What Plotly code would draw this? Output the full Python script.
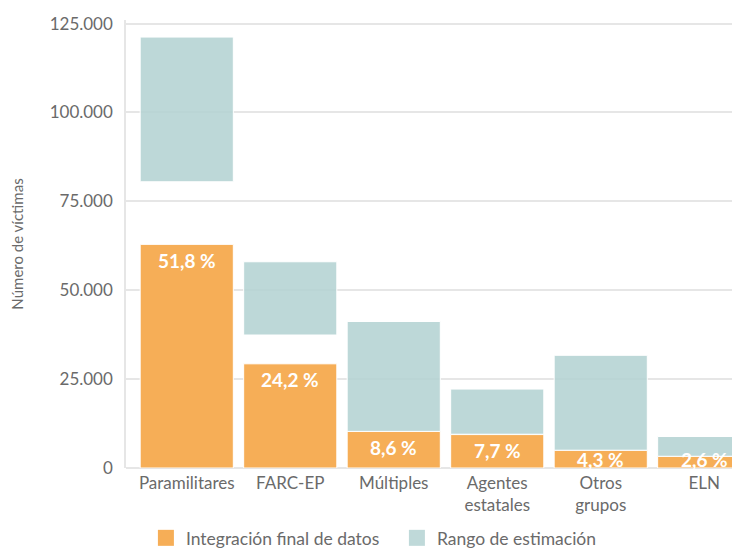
import plotly.graph_objects as go

categorias = ["Paramilitares", "FARC-EP", "Múltiples", "Agentes<br>estatales", "Otros<br>grupos", "ELN"]
integracion = [62900, 29300, 10300, 9400, 5000, 3300]
rango_min = [80500, 37400, 10300, 9500, 5000, 3300]
rango_max = [121200, 58000, 41200, 22200, 31700, 8850]
porcentajes = ["51,8 %", "24,2 %", "8,6 %", "7,7 %", "4,3 %", "2,6 %"]

naranja = "#f6ae57"
verde = "rgba(178,209,209,0.85)"
gris = "#6a6a6a"
fuente = "Lato"

fig = go.Figure()

fig.add_trace(go.Bar(
    x=categorias, y=integracion,
    marker=dict(color=naranja, line=dict(color="white", width=1)),
    showlegend=False, hoverinfo="skip",
))
fig.add_trace(go.Bar(
    x=categorias, y=[hi - lo for lo, hi in zip(rango_min, rango_max)], base=rango_min,
    marker=dict(color=verde, line=dict(color="white", width=1)),
    showlegend=False, hoverinfo="skip",
))

# legend only
fig.add_trace(go.Scatter(x=[None], y=[None], mode="markers", name="Integración final de datos",
                         marker=dict(symbol="square", size=16, color=naranja)))
fig.add_trace(go.Scatter(x=[None], y=[None], mode="markers", name="Rango de estimación",
                         marker=dict(symbol="square", size=16, color="#bfd9d9")))

for cat, v, txt in zip(categorias, integracion, porcentajes):
    fig.add_annotation(x=cat, y=max(v - 4500, 2400), text="<b>" + txt + "</b>", showarrow=False,
                       font=dict(family=fuente, size=19, color="white"), yanchor="middle")

# the page adds an 8px body margin, so the figure is laid out 8px up/left
fig.update_layout(
    width=740, height=548,
    margin=dict(l=118, r=0, t=12, b=88, autoexpand=False),
    plot_bgcolor="white", paper_bgcolor="white",
    barmode="overlay", bargap=0.1,
    separators=",.",
    font=dict(family=fuente, size=17, color=gris),
    legend=dict(orientation="h", x=0.032, y=-0.116, xanchor="left", yanchor="top",
                font=dict(size=17.5, color=gris), itemwidth=30, entrywidth=206),
    xaxis=dict(range=[-0.587, 5.423], showgrid=False, ticks="", showline=False, automargin=False,
               ticklabelstandoff=3, tickfont=dict(size=17, color=gris)),
    yaxis=dict(range=[0, 126000], tickvals=[0, 25000, 50000, 75000, 100000, 125000],
               tickformat=",d", showgrid=True, gridcolor="#e6e6e6", gridwidth=1.5,
               zeroline=True, zerolinecolor="#e6e6e6", zerolinewidth=1.5,
               showline=True, linecolor="#e6e6e6", linewidth=1.5, automargin=False,
               ticks="", ticklabelstandoff=8,
               tickfont=dict(size=17, color=gris),
               title=dict(text="Número de víctimas", font=dict(size=15, color=gris), standoff=24)),
)

fig.write_html("out.html")
